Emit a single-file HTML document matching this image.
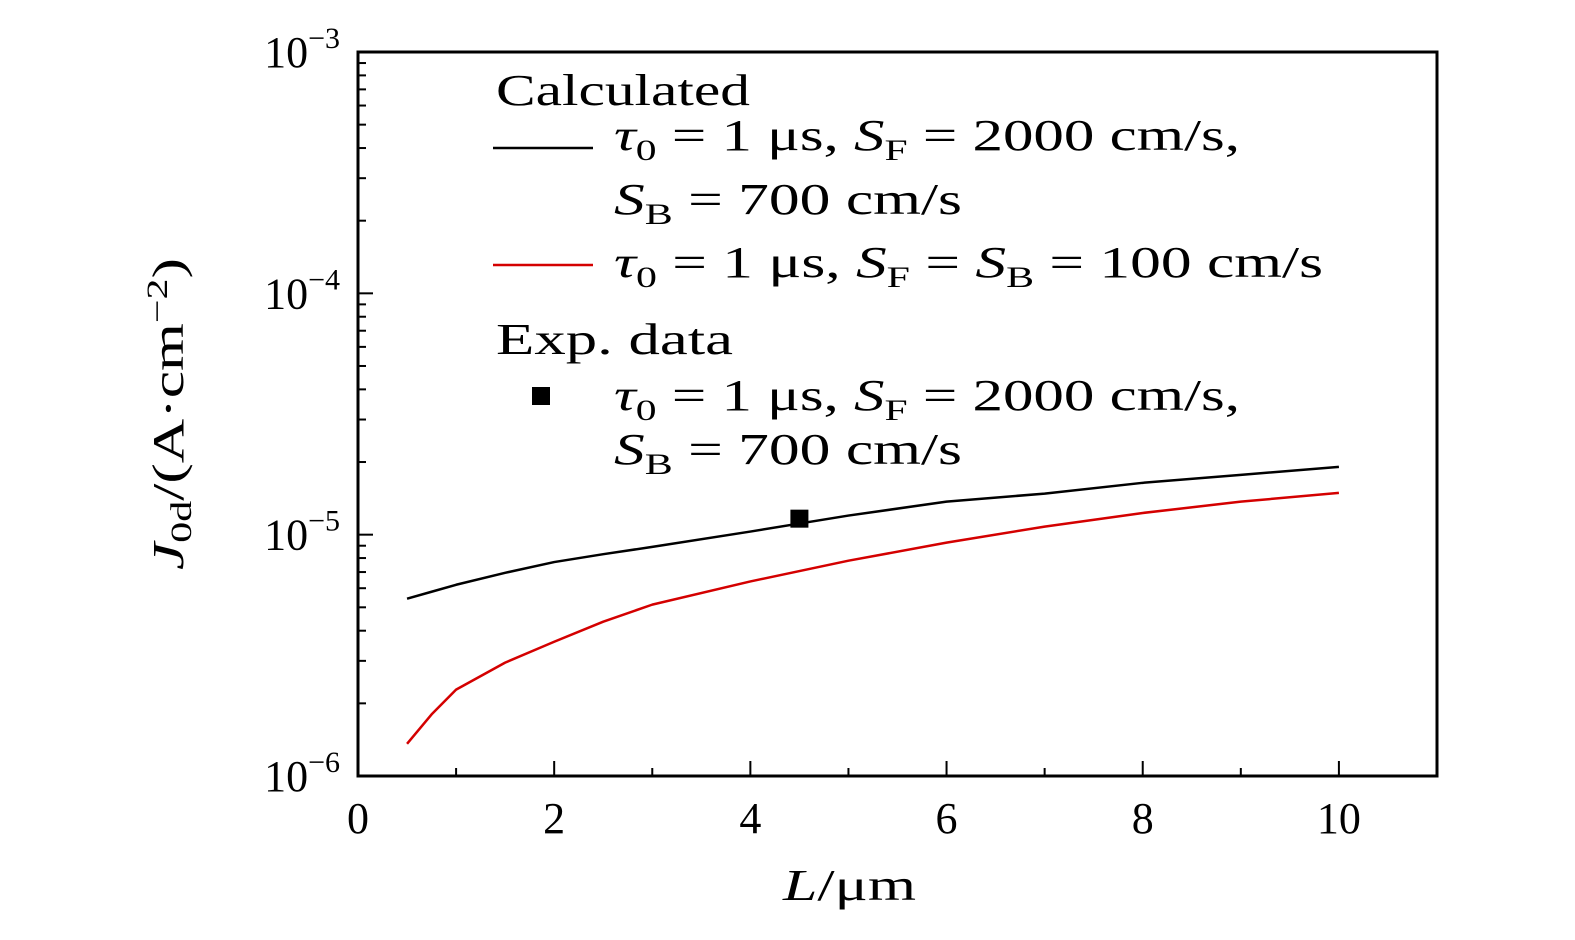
<!DOCTYPE html>
<html><head><meta charset="utf-8"><style>
body{margin:0;background:#fff}
svg text{font-family:"Liberation Serif","DejaVu Serif",serif;fill:#000}
</style></head><body>
<svg id="chart" width="1575" height="935" xmlns="http://www.w3.org/2000/svg">
<g id="marks"></g>
<g id="axes"></g>
<g id="legend" font-size="44">
<text x="496" y="105" textLength="254" lengthAdjust="spacingAndGlyphs">Calculated</text>
<line x1="493" y1="148" x2="593" y2="148" stroke="#000" stroke-width="2.5"/>
<text x="614" y="150" textLength="626" lengthAdjust="spacingAndGlyphs"><tspan font-style="italic">τ</tspan><tspan font-size="30" dy="10">0</tspan><tspan dy="-10"> = 1 μs, </tspan><tspan font-style="italic">S</tspan><tspan font-size="30" dy="10">F</tspan><tspan dy="-10"> = 2000 cm/s,</tspan></text>
<text x="614" y="214" textLength="348" lengthAdjust="spacingAndGlyphs"><tspan font-style="italic">S</tspan><tspan font-size="30" dy="10">B</tspan><tspan dy="-10"> = 700 cm/s</tspan></text>
<line x1="493" y1="265" x2="593" y2="265" stroke="#d40000" stroke-width="2.5"/>
<text x="614" y="277" textLength="709" lengthAdjust="spacingAndGlyphs"><tspan font-style="italic">τ</tspan><tspan font-size="30" dy="10">0</tspan><tspan dy="-10"> = 1 μs, </tspan><tspan font-style="italic">S</tspan><tspan font-size="30" dy="10">F</tspan><tspan dy="-10"> = </tspan><tspan font-style="italic">S</tspan><tspan font-size="30" dy="10">B</tspan><tspan dy="-10"> = 100 cm/s</tspan></text>
<text x="496" y="354" textLength="237" lengthAdjust="spacingAndGlyphs">Exp. data</text>
<rect x="532" y="387" width="18" height="18" fill="#000"/>
<text x="614" y="410" textLength="626" lengthAdjust="spacingAndGlyphs"><tspan font-style="italic">τ</tspan><tspan font-size="30" dy="10">0</tspan><tspan dy="-10"> = 1 μs, </tspan><tspan font-style="italic">S</tspan><tspan font-size="30" dy="10">F</tspan><tspan dy="-10"> = 2000 cm/s,</tspan></text>
<text x="614" y="464" textLength="348" lengthAdjust="spacingAndGlyphs"><tspan font-style="italic">S</tspan><tspan font-size="30" dy="10">B</tspan><tspan dy="-10"> = 700 cm/s</tspan></text>
</g>
<text x="783" y="900" font-size="44" textLength="133" lengthAdjust="spacingAndGlyphs"><tspan font-style="italic">L</tspan>/μm</text>
<text transform="translate(183,570) rotate(-90)" font-size="44" textLength="312" lengthAdjust="spacingAndGlyphs"><tspan font-style="italic">J</tspan><tspan font-size="30" dy="8">0d</tspan><tspan dy="-8">/(A·cm</tspan><tspan font-size="30" dy="-16">−2</tspan><tspan dy="16">)</tspan></text>
</svg>
<script>
const xData = [0.5,0.75,1,1.5,2,2.5,3,4,5,6,7,8,9,10];
const blackSeries = [5.43e-6,5.8e-6,6.2e-6,6.95e-6,7.7e-6,8.3e-6,8.9e-6,1.03e-5,1.2e-5,1.37e-5,1.48e-5,1.64e-5,1.77e-5,1.91e-5];
const redSeries = [1.36e-6,1.8e-6,2.28e-6,2.95e-6,3.6e-6,4.36e-6,5.13e-6,6.4e-6,7.8e-6,9.27e-6,1.08e-5,1.23e-5,1.37e-5,1.49e-5];
const expX = [4.5];
const expY = [1.165e-5];
const xTicks = [0,2,4,6,8,10];
const yTickExps = [-6,-5,-4,-3];
const NS='http://www.w3.org/2000/svg';
const L=358,R=1437,T=52,B=776;
const xs=v=>L+(v-0)/(11-0)*(R-L);
const ys=v=>B-(Math.log10(v)+6)/3*(B-T);
const marks=document.getElementById('marks'), axes=document.getElementById('axes');
function mk(tag,attrs,parent){const e=document.createElementNS(NS,tag);for(const k in attrs)e.setAttribute(k,attrs[k]);parent.appendChild(e);return e;}
function line(xa,ya,color,name){
  const p=mk('polyline',{points:xa.map((x,i)=>xs(x)+','+ys(ya[i])).join(' '),fill:'none',stroke:color,'stroke-width':2.5,'stroke-linejoin':'round'},marks);
  
  
}
line(xData,blackSeries,'#000','series-black');
line(xData,redSeries,'#d40000','series-red');
expX.forEach((x,i)=>{const r=mk('rect',{x:xs(x)-9,y:ys(expY[i])-9,width:18,height:18,fill:'#000'},marks);
  
  });
const frame=mk('rect',{x:L,y:T,width:R-L,height:B-T,fill:'none',stroke:'#000','stroke-width':3},axes);


for(let v=0;v<=11;v++){const x=xs(v);const major=v%2==0;
  mk('line',{x1:x,y1:B,x2:x,y2:B-(major?15:8),stroke:'#000','stroke-width':2},axes);}
xTicks.forEach(v=>{const t=mk('text',{x:xs(v),y:B+57,'font-size':44,'text-anchor':'middle'},axes);t.textContent=v;
  
  });
yTickExps.forEach((e,i)=>{const y=ys(Math.pow(10,e));
  mk('line',{x1:L,y1:y,x2:L+15,y2:y,stroke:'#000','stroke-width':2},axes);
  if(i<yTickExps.length-1)for(let m=2;m<10;m++){const yy=ys(m*Math.pow(10,e));mk('line',{x1:L,y1:yy,x2:L+8,y2:yy,stroke:'#000','stroke-width':2},axes);}
  const t=mk('text',{x:L-18,y:y+15,'font-size':44,'text-anchor':'end'},axes);
  t.innerHTML='10<tspan font-size="30" dy="-19">−'+(-e)+'</tspan>';
  
  });
</script>
</body></html>
